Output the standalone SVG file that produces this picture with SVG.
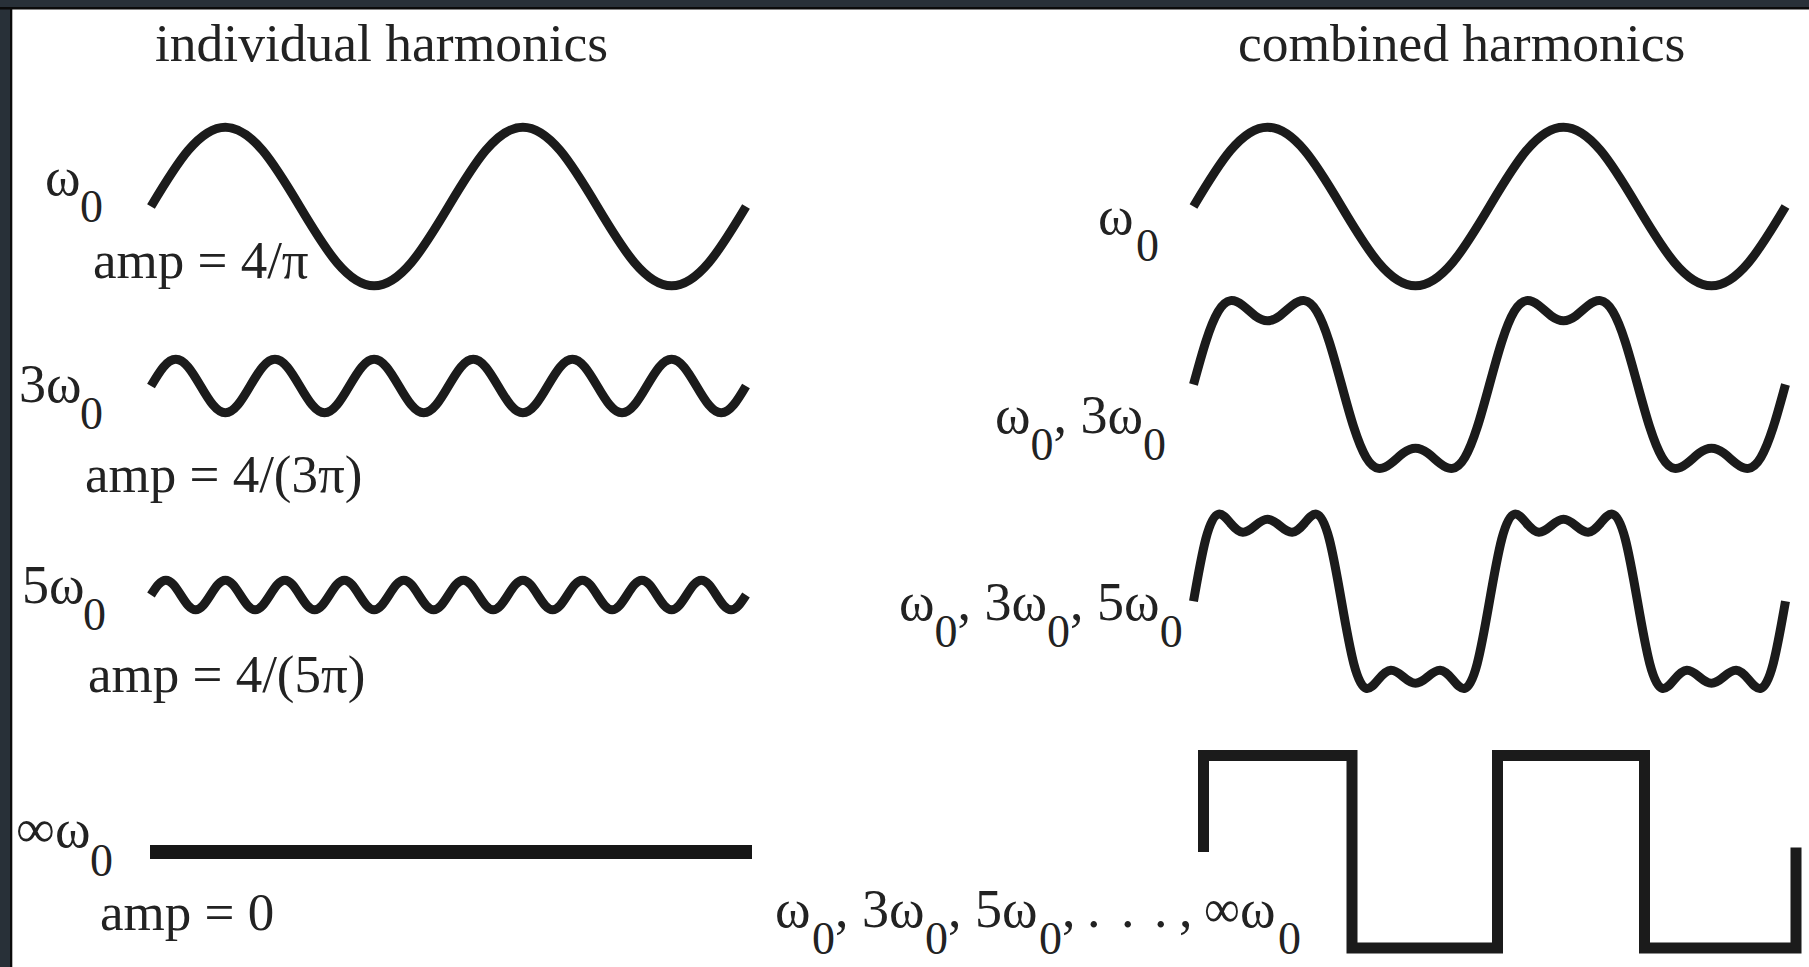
<svg xmlns="http://www.w3.org/2000/svg" width="1809" height="967" viewBox="0 0 1809 967">
<style>
.t{font-family:"Liberation Serif","Times New Roman",serif;fill:#222}
.title{font-size:53.5px}
.lbl{font-size:54px}
.amp{font-size:53px}
.sub{font-size:46px}
.w{fill:none;stroke:#1b1b1b;stroke-width:9;stroke-linecap:butt;stroke-linejoin:round}
.sq{fill:none;stroke:#1b1b1b;stroke-width:11;stroke-linecap:butt;stroke-linejoin:miter}
</style>
<rect x="0" y="0" width="1809" height="967" fill="#ffffff"/>
<g id="frame">
<rect x="0" y="0" width="1809" height="7" fill="#283038"/>
<rect x="0" y="0" width="10" height="967" fill="#283038"/>
<rect x="0" y="7" width="1809" height="2.5" fill="#0b0b0b"/>
<rect x="10" y="7" width="2.3" height="960" fill="#0b0b0b"/>
</g>

<g id="titles">
<text class="t title" x="155" y="61">individual harmonics</text>
<text class="t title" x="1238" y="61">combined harmonics</text>
</g>

<g id="individual-w0">
<path class="w" vector-effect="non-scaling-stroke" transform="translate(151,206.5) scale(0.82639,0.793)" d="M0,0 c15,-26.18 30,-52.2 45,-70.71 c15,-18.51 30,-29.29 45,-29.29 c15,0 30,10.78 45,29.29 c15,18.51 30,44.53 45,70.71 c15,26.18 30,52.2 45,70.71 c15,18.51 30,29.29 45,29.29 c15,0 30,-10.78 45,-29.29 c15,-18.51 30,-44.53 45,-70.71 c15,-26.18 30,-52.2 45,-70.71 c15,-18.51 30,-29.29 45,-29.29 c15,0 30,10.78 45,29.29 c15,18.51 30,44.53 45,70.71 c15,26.18 30,52.2 45,70.71 c15,18.51 30,29.29 45,29.29 c15,0 30,-10.78 45,-29.29 c15,-18.51 30,-44.53 45,-70.71"/>
<text class="t lbl"><tspan x="45" y="195">ω</tspan><tspan class="sub" x="80" y="222">0</tspan></text>
<text class="t amp" x="93" y="278">amp = 4/π</text>
</g>

<g id="individual-3w0">
<path class="w" vector-effect="non-scaling-stroke" transform="translate(151,386) scale(0.27546,0.268)" d="M0,0 c15,-26.18 30,-52.2 45,-70.71 c15,-18.51 30,-29.29 45,-29.29 c15,0 30,10.78 45,29.29 c15,18.51 30,44.53 45,70.71 c15,26.18 30,52.2 45,70.71 c15,18.51 30,29.29 45,29.29 c15,0 30,-10.78 45,-29.29 c15,-18.51 30,-44.53 45,-70.71 c15,-26.18 30,-52.2 45,-70.71 c15,-18.51 30,-29.29 45,-29.29 c15,0 30,10.78 45,29.29 c15,18.51 30,44.53 45,70.71 c15,26.18 30,52.2 45,70.71 c15,18.51 30,29.29 45,29.29 c15,0 30,-10.78 45,-29.29 c15,-18.51 30,-44.53 45,-70.71 c15,-26.18 30,-52.2 45,-70.71 c15,-18.51 30,-29.29 45,-29.29 c15,0 30,10.78 45,29.29 c15,18.51 30,44.53 45,70.71 c15,26.18 30,52.2 45,70.71 c15,18.51 30,29.29 45,29.29 c15,0 30,-10.78 45,-29.29 c15,-18.51 30,-44.53 45,-70.71 c15,-26.18 30,-52.2 45,-70.71 c15,-18.51 30,-29.29 45,-29.29 c15,0 30,10.78 45,29.29 c15,18.51 30,44.53 45,70.71 c15,26.18 30,52.2 45,70.71 c15,18.51 30,29.29 45,29.29 c15,0 30,-10.78 45,-29.29 c15,-18.51 30,-44.53 45,-70.71 c15,-26.18 30,-52.2 45,-70.71 c15,-18.51 30,-29.29 45,-29.29 c15,0 30,10.78 45,29.29 c15,18.51 30,44.53 45,70.71 c15,26.18 30,52.2 45,70.71 c15,18.51 30,29.29 45,29.29 c15,0 30,-10.78 45,-29.29 c15,-18.51 30,-44.53 45,-70.71 c15,-26.18 30,-52.2 45,-70.71 c15,-18.51 30,-29.29 45,-29.29 c15,0 30,10.78 45,29.29 c15,18.51 30,44.53 45,70.71 c15,26.18 30,52.2 45,70.71 c15,18.51 30,29.29 45,29.29 c15,0 30,-10.78 45,-29.29 c15,-18.51 30,-44.53 45,-70.71"/>
<text class="t lbl"><tspan x="19" y="402">3ω</tspan><tspan class="sub" x="80" y="429">0</tspan></text>
<text class="t amp" x="85" y="492">amp = 4/(3π)</text>
</g>

<g id="individual-5w0">
<path class="w" vector-effect="non-scaling-stroke" transform="translate(151,595) scale(0.16528,0.148)" d="M0,0 c15,-26.18 30,-52.2 45,-70.71 c15,-18.51 30,-29.29 45,-29.29 c15,0 30,10.78 45,29.29 c15,18.51 30,44.53 45,70.71 c15,26.18 30,52.2 45,70.71 c15,18.51 30,29.29 45,29.29 c15,0 30,-10.78 45,-29.29 c15,-18.51 30,-44.53 45,-70.71 c15,-26.18 30,-52.2 45,-70.71 c15,-18.51 30,-29.29 45,-29.29 c15,0 30,10.78 45,29.29 c15,18.51 30,44.53 45,70.71 c15,26.18 30,52.2 45,70.71 c15,18.51 30,29.29 45,29.29 c15,0 30,-10.78 45,-29.29 c15,-18.51 30,-44.53 45,-70.71 c15,-26.18 30,-52.2 45,-70.71 c15,-18.51 30,-29.29 45,-29.29 c15,0 30,10.78 45,29.29 c15,18.51 30,44.53 45,70.71 c15,26.18 30,52.2 45,70.71 c15,18.51 30,29.29 45,29.29 c15,0 30,-10.78 45,-29.29 c15,-18.51 30,-44.53 45,-70.71 c15,-26.18 30,-52.2 45,-70.71 c15,-18.51 30,-29.29 45,-29.29 c15,0 30,10.78 45,29.29 c15,18.51 30,44.53 45,70.71 c15,26.18 30,52.2 45,70.71 c15,18.51 30,29.29 45,29.29 c15,0 30,-10.78 45,-29.29 c15,-18.51 30,-44.53 45,-70.71 c15,-26.18 30,-52.2 45,-70.71 c15,-18.51 30,-29.29 45,-29.29 c15,0 30,10.78 45,29.29 c15,18.51 30,44.53 45,70.71 c15,26.18 30,52.2 45,70.71 c15,18.51 30,29.29 45,29.29 c15,0 30,-10.78 45,-29.29 c15,-18.51 30,-44.53 45,-70.71 c15,-26.18 30,-52.2 45,-70.71 c15,-18.51 30,-29.29 45,-29.29 c15,0 30,10.78 45,29.29 c15,18.51 30,44.53 45,70.71 c15,26.18 30,52.2 45,70.71 c15,18.51 30,29.29 45,29.29 c15,0 30,-10.78 45,-29.29 c15,-18.51 30,-44.53 45,-70.71 c15,-26.18 30,-52.2 45,-70.71 c15,-18.51 30,-29.29 45,-29.29 c15,0 30,10.78 45,29.29 c15,18.51 30,44.53 45,70.71 c15,26.18 30,52.2 45,70.71 c15,18.51 30,29.29 45,29.29 c15,0 30,-10.78 45,-29.29 c15,-18.51 30,-44.53 45,-70.71 c15,-26.18 30,-52.2 45,-70.71 c15,-18.51 30,-29.29 45,-29.29 c15,0 30,10.78 45,29.29 c15,18.51 30,44.53 45,70.71 c15,26.18 30,52.2 45,70.71 c15,18.51 30,29.29 45,29.29 c15,0 30,-10.78 45,-29.29 c15,-18.51 30,-44.53 45,-70.71 c15,-26.18 30,-52.2 45,-70.71 c15,-18.51 30,-29.29 45,-29.29 c15,0 30,10.78 45,29.29 c15,18.51 30,44.53 45,70.71 c15,26.18 30,52.2 45,70.71 c15,18.51 30,29.29 45,29.29 c15,0 30,-10.78 45,-29.29 c15,-18.51 30,-44.53 45,-70.71 c15,-26.18 30,-52.2 45,-70.71 c15,-18.51 30,-29.29 45,-29.29 c15,0 30,10.78 45,29.29 c15,18.51 30,44.53 45,70.71 c15,26.18 30,52.2 45,70.71 c15,18.51 30,29.29 45,29.29 c15,0 30,-10.78 45,-29.29 c15,-18.51 30,-44.53 45,-70.71"/>
<text class="t lbl"><tspan x="22" y="603">5ω</tspan><tspan class="sub" x="83" y="630">0</tspan></text>
<text class="t amp" x="88" y="692">amp = 4/(5π)</text>
</g>

<g id="individual-infw0">
<rect x="150" y="845" width="602" height="14" fill="#161616"/>
<text class="t lbl" x="16" y="847" textLength="39" lengthAdjust="spacingAndGlyphs">∞</text>
<text class="t lbl"><tspan x="55" y="847">ω</tspan><tspan class="sub" x="90" y="876">0</tspan></text>
<text class="t amp" x="100" y="930">amp = 0</text>
</g>

<g id="combined-w0">
<path class="w" vector-effect="non-scaling-stroke" transform="translate(1193.5,206.5) scale(0.82222,0.793)" d="M0,0 c15,-26.18 30,-52.2 45,-70.71 c15,-18.51 30,-29.29 45,-29.29 c15,0 30,10.78 45,29.29 c15,18.51 30,44.53 45,70.71 c15,26.18 30,52.2 45,70.71 c15,18.51 30,29.29 45,29.29 c15,0 30,-10.78 45,-29.29 c15,-18.51 30,-44.53 45,-70.71 c15,-26.18 30,-52.2 45,-70.71 c15,-18.51 30,-29.29 45,-29.29 c15,0 30,10.78 45,29.29 c15,18.51 30,44.53 45,70.71 c15,26.18 30,52.2 45,70.71 c15,18.51 30,29.29 45,29.29 c15,0 30,-10.78 45,-29.29 c15,-18.51 30,-44.53 45,-70.71"/>
<text class="t lbl"><tspan x="1098" y="234">ω</tspan><tspan class="sub" x="1136" y="261">0</tspan></text>
</g>

<g id="combined-w0-3w0">
<path class="w" vector-effect="non-scaling-stroke" transform="translate(1193.5,384.5) scale(0.82222,1)" d="M0,0 c5,-15.13 10,-30.21 15,-42.97 c5,-12.76 10,-23.14 15,-30.03 c5,-6.89 10,-10.3 15,-10.86 c5,-0.56 10,1.69 15,4.88 c5,3.19 10,7.25 15,10.26 c5,3.01 10,4.92 15,4.92 c5,0 10,-1.91 15,-4.92 c5,-3.01 10,-7.07 15,-10.26 c5,-3.19 10,-5.44 15,-4.88 c5,0.56 10,3.97 15,10.86 c5,6.89 10,17.27 15,30.03 c5,12.76 10,27.84 15,42.97 c5,15.13 10,30.21 15,42.97 c5,12.76 10,23.14 15,30.03 c5,6.89 10,10.3 15,10.86 c5,0.56 10,-1.69 15,-4.88 c5,-3.19 10,-7.25 15,-10.26 c5,-3.01 10,-4.92 15,-4.92 c5,0 10,1.91 15,4.92 c5,3.01 10,7.07 15,10.26 c5,3.19 10,5.44 15,4.88 c5,-0.56 10,-3.97 15,-10.86 c5,-6.89 10,-17.27 15,-30.03 c5,-12.76 10,-27.84 15,-42.97 c5,-15.13 10,-30.21 15,-42.97 c5,-12.76 10,-23.14 15,-30.03 c5,-6.89 10,-10.3 15,-10.86 c5,-0.56 10,1.69 15,4.88 c5,3.19 10,7.25 15,10.26 c5,3.01 10,4.92 15,4.92 c5,0 10,-1.91 15,-4.92 c5,-3.01 10,-7.07 15,-10.26 c5,-3.19 10,-5.44 15,-4.88 c5,0.56 10,3.97 15,10.86 c5,6.89 10,17.27 15,30.03 c5,12.76 10,27.84 15,42.97 c5,15.13 10,30.21 15,42.97 c5,12.76 10,23.14 15,30.03 c5,6.89 10,10.3 15,10.86 c5,0.56 10,-1.69 15,-4.88 c5,-3.19 10,-7.25 15,-10.26 c5,-3.01 10,-4.92 15,-4.92 c5,0 10,1.91 15,4.92 c5,3.01 10,7.07 15,10.26 c5,3.19 10,5.44 15,4.88 c5,-0.56 10,-3.97 15,-10.86 c5,-6.89 10,-17.27 15,-30.03 c5,-12.76 10,-27.84 15,-42.97"/>
<text class="t lbl"><tspan x="995" y="433">ω</tspan><tspan class="sub" dy="27">0</tspan><tspan dy="-27">, 3ω</tspan><tspan class="sub" dy="27">0</tspan></text>
</g>

<g id="combined-w0-3w0-5w0">
<path class="w" vector-effect="non-scaling-stroke" transform="translate(1193.5,601.3) scale(0.82222,1)" d="M0,0 c5,-23.63 10,-46.89 15,-62.55 c5,-15.66 10,-23.47 15,-24.5 c5,-1.04 10,4.15 15,8.99 c5,4.84 10,8.8 15,9.04 c5,0.24 10,-3.02 15,-6.46 c5,-3.45 10,-6.52 15,-6.52 c5,0 10,3.07 15,6.52 c5,3.44 10,6.7 15,6.46 c5,-0.24 10,-4.2 15,-9.04 c5,-4.84 10,-10.03 15,-8.99 c5,1.03 10,8.84 15,24.5 c5,15.66 10,38.92 15,62.55 c5,23.63 10,46.89 15,62.55 c5,15.66 10,23.47 15,24.5 c5,1.04 10,-4.15 15,-8.99 c5,-4.84 10,-8.8 15,-9.04 c5,-0.24 10,3.02 15,6.46 c5,3.45 10,6.52 15,6.52 c5,0 10,-3.07 15,-6.52 c5,-3.44 10,-6.7 15,-6.46 c5,0.24 10,4.2 15,9.04 c5,4.84 10,10.03 15,8.99 c5,-1.03 10,-8.84 15,-24.5 c5,-15.66 10,-38.92 15,-62.55 c5,-23.63 10,-46.89 15,-62.55 c5,-15.66 10,-23.47 15,-24.5 c5,-1.04 10,4.15 15,8.99 c5,4.84 10,8.8 15,9.04 c5,0.24 10,-3.02 15,-6.46 c5,-3.45 10,-6.52 15,-6.52 c5,0 10,3.07 15,6.52 c5,3.44 10,6.7 15,6.46 c5,-0.24 10,-4.2 15,-9.04 c5,-4.84 10,-10.03 15,-8.99 c5,1.03 10,8.84 15,24.5 c5,15.66 10,38.92 15,62.55 c5,23.63 10,46.89 15,62.55 c5,15.66 10,23.47 15,24.5 c5,1.04 10,-4.15 15,-8.99 c5,-4.84 10,-8.8 15,-9.04 c5,-0.24 10,3.02 15,6.46 c5,3.45 10,6.52 15,6.52 c5,0 10,-3.07 15,-6.52 c5,-3.44 10,-6.7 15,-6.46 c5,0.24 10,4.2 15,9.04 c5,4.84 10,10.03 15,8.99 c5,-1.03 10,-8.84 15,-24.5 c5,-15.66 10,-38.92 15,-62.55"/>
<text class="t lbl"><tspan x="899" y="620">ω</tspan><tspan class="sub" dy="27">0</tspan><tspan dy="-27">, 3ω</tspan><tspan class="sub" dy="27">0</tspan><tspan dy="-27">, 5ω</tspan><tspan class="sub" dy="27">0</tspan></text>
</g>

<g id="combined-square">
<path class="sq" d="M1203.5,852 V755.5 H1352 V948 H1497.5 V755.5 H1644.5 V948 H1796 V847.5"/>
<text class="t lbl"><tspan x="775" y="927">ω</tspan><tspan class="sub" x="812" y="954">0</tspan><tspan x="835" y="927">, 3ω</tspan><tspan class="sub" x="925" y="954">0</tspan><tspan x="948" y="927">, 5ω</tspan><tspan class="sub" x="1039" y="954">0</tspan><tspan x="1062" y="927">,</tspan><tspan x="1087" y="927">.</tspan><tspan x="1121" y="927">.</tspan><tspan x="1154" y="927">.</tspan><tspan x="1179" y="927">,</tspan></text>
<text class="t lbl" x="1204" y="927" textLength="36" lengthAdjust="spacingAndGlyphs">∞</text>
<text class="t lbl"><tspan x="1240" y="927">ω</tspan><tspan class="sub" x="1278" y="954">0</tspan></text>
</g>
</svg>
